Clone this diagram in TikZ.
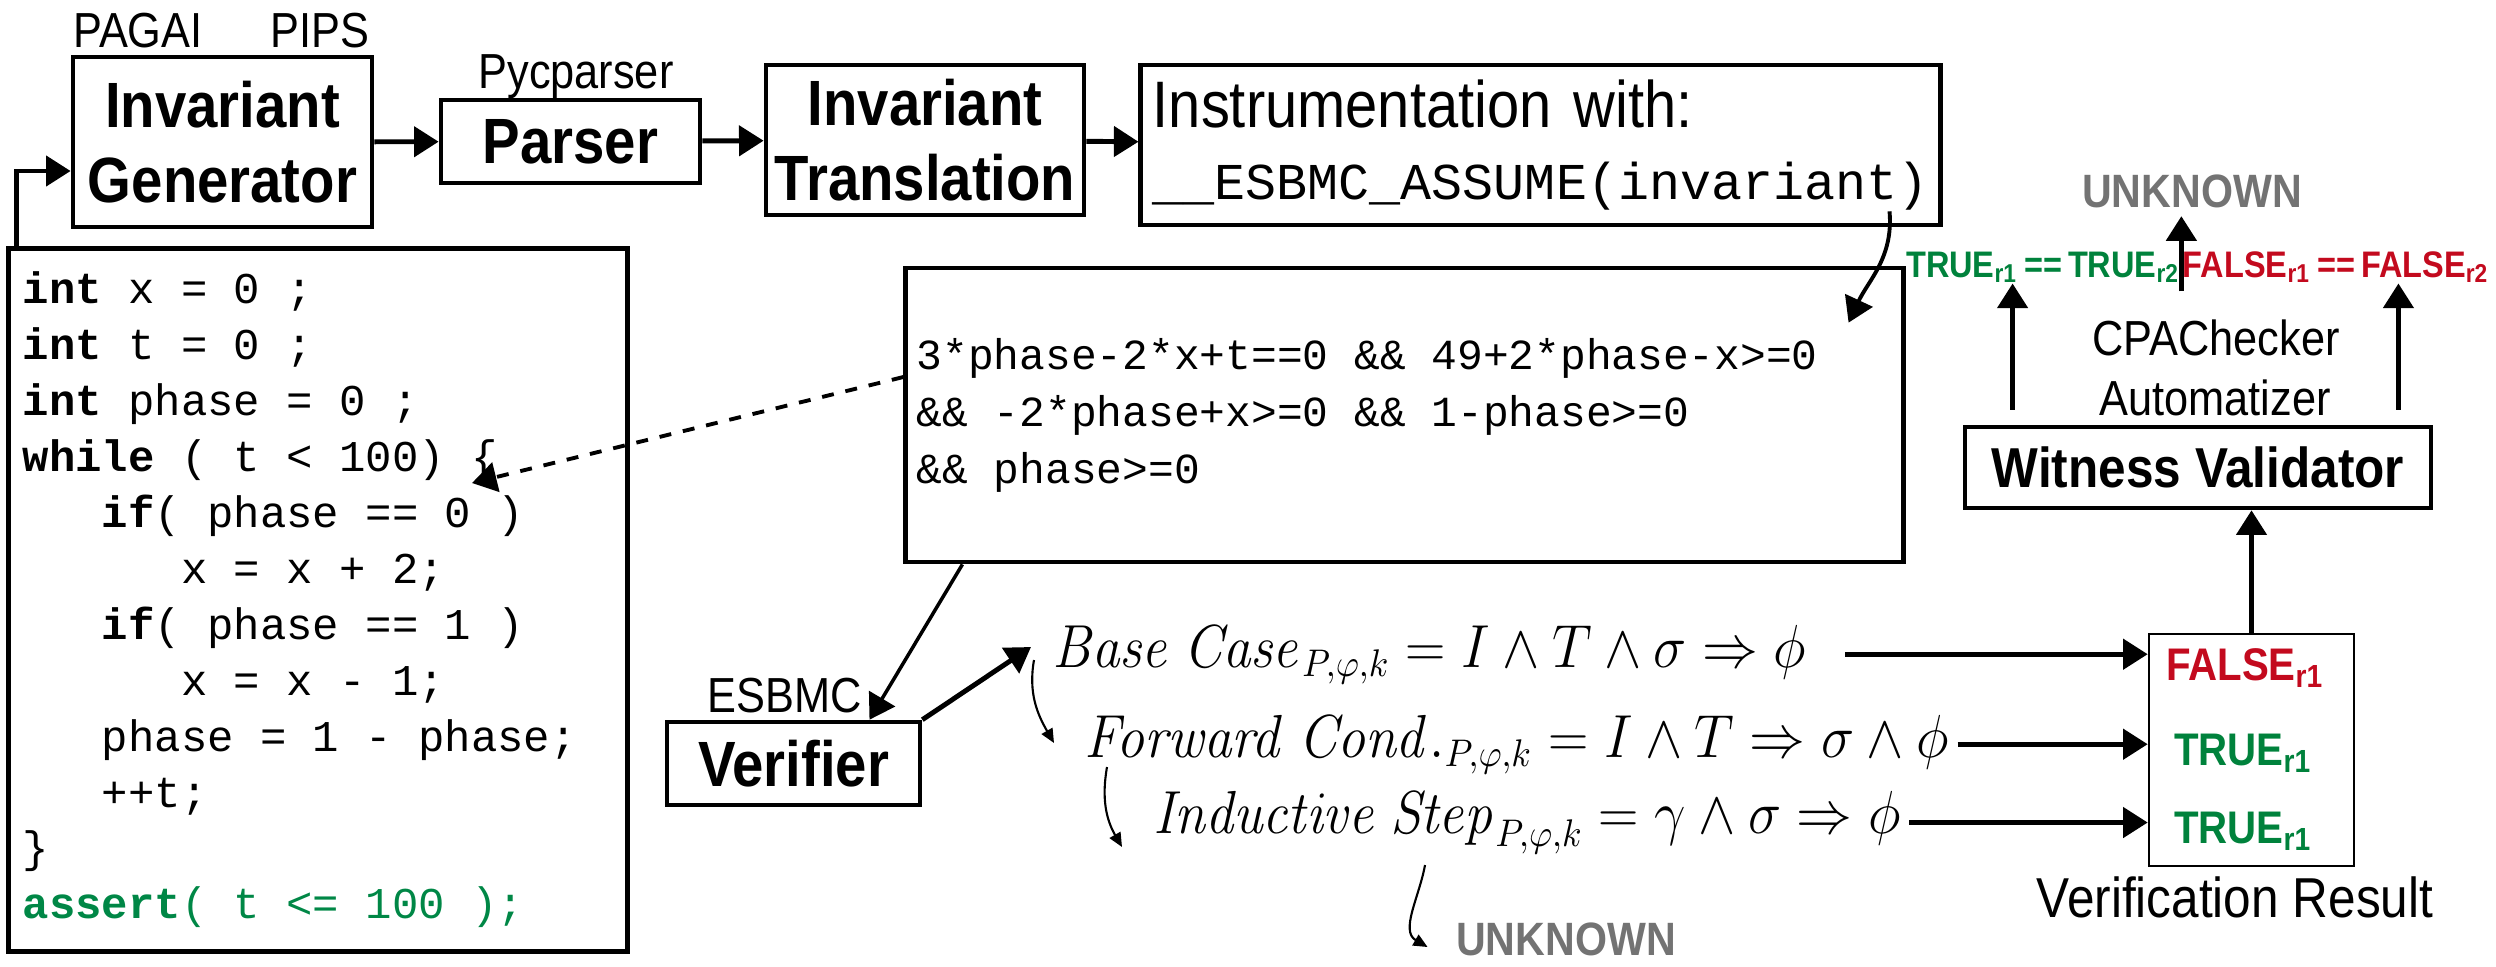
\documentclass[tikz,border=0pt]{standalone}
\usepackage[no-math]{fontspec}
\setmainfont{Liberation Sans}[FakeStretch=0.88]
\setmonofont{Liberation Mono}
\usepackage{graphicx}
\usepackage{xcolor}
\usetikzlibrary{arrows.meta,calc}

\definecolor{passgreen}{RGB}{0,130,60}
\definecolor{failred}{RGB}{195,10,30}
\definecolor{unkgray}{RGB}{115,115,115}
\definecolor{codegreen}{RGB}{0,135,70}

% fixed-width blanks for the listings (align=left would set them to .333em)
\newcommand{\monospaces}{\spaceskip=0.6em plus 0pt minus 0pt\xspaceskip=0.6em\relax}
% narrowed formula
\newcommand{\fmlbox}[1]{\scalebox{0.92}[1]{$#1$}}

\tikzset{
  box/.style={draw, line width=1.3pt, inner sep=0pt, align=center},
  boxlabel/.style={font=\fontsize{18.2}{21.3}\selectfont\bfseries},
  tool/.style={anchor=base, inner sep=0pt, font=\fontsize{14}{16}\selectfont},
  unk/.style={anchor=base, inner sep=0pt, text=unkgray, font=\fontsize{13.3}{15}\selectfont\bfseries},
  cmp/.style={anchor=base, inner sep=0pt, font=\fontsize{10.5}{12}\selectfont\bfseries},
  res/.style={anchor=base, inner sep=0pt, font=\fontsize{13}{15}\selectfont\bfseries},
  fml/.style={anchor=base west, inner sep=0pt, font=\fontsize{16}{18}\selectfont},
  arr/.style={line width=1.4pt, -{Triangle[length=7pt,width=8.5pt]}},
  thinarr/.style={line width=0.6pt, -{Triangle[length=4pt,width=3.5pt]}},
}

\begin{document}
\begin{tikzpicture}[x=0.01cm, y=-0.01cm]
\useasboundingbox (0,0) rectangle (2496,966);

% tool chain on top
\node[tool] (pagai) at (138,47) {PAGAI};
\node[tool] (pips) at (320,47) {PIPS};
\node[box, boxlabel, minimum width=2.99cm, minimum height=1.70cm] (gen) at (222.5,142) {Invariant\\Generator};
\node[tool] (pyc) at (576,88) {Pycparser};
\node[box, boxlabel, minimum width=2.59cm, minimum height=0.83cm] (parser) at (570.5,141.5) {Parser};
\node[box, boxlabel, minimum width=3.18cm, minimum height=1.50cm] (trans) at (925,140) {Invariant\\Translation};
\node[box, minimum width=7.99cm, minimum height=1.60cm, text width=7.75cm, align=left,
      font=\fontsize{18.7}{20.5}\selectfont] (instr) at (1540.5,145)
  {Instrumentation with:\\
   {\ttfamily\fontsize{14.7}{20.5}\selectfont \_\_ESBMC\_ASSUME(invariant)}};

% program under verification
\node[box, line width=1.4pt, minimum width=6.18cm, minimum height=7.02cm, text width=5.90cm, align=left,
      font=\ttfamily\fontsize{12.5}{15.9}\selectfont] (code) at (318,600) {\monospaces
\textbf{int} x = 0 ;\\
\textbf{int} t = 0 ;\\
\textbf{int} phase = 0 ;\\
\textbf{while} ( t < 100) \{\\
\hspace*{1.8em}\textbf{if}( phase == 0 )\\
\hspace*{3.6em}x = x + 2;\\
\hspace*{1.8em}\textbf{if}( phase == 1 )\\
\hspace*{3.6em}x = x - 1;\\
\hspace*{1.8em}phase = 1 - phase;\\
\hspace*{1.8em}++t;\\
\}\\
\textcolor{codegreen}{\textbf{assert}( t <= 100 );}};
\coordinate (brace) at (472,483);

% generated invariant
\node[box, minimum width=9.97cm, minimum height=2.94cm, text width=9.75cm, align=left,
      font=\ttfamily\fontsize{12.2}{16.2}\selectfont] (inv) at (1404.5,415)
  {\monospaces 3*phase-2*x+t==0 \&\& 49+2*phase-x>=0\\
   \&\& -2*phase+x>=0 \&\& 1-phase>=0\\
   \&\& phase>=0};

% verifier and k-induction steps
\node[tool] (esbmc) at (785,712) {ESBMC};
\node[box, boxlabel, minimum width=2.53cm, minimum height=0.83cm] (verifier) at (793.5,763.5) {Verifier};
\node[fml] (bc) at (1052,667) {\fmlbox{\mathit{Base}\ \mathit{Case}_{P,\varphi,k} = I \wedge T \wedge \sigma \Rightarrow \phi}};
\node[fml] (fc) at (1084,757) {\fmlbox{\mathit{Forward}\ \mathit{Cond.}_{P,\varphi,k} = I \wedge T \Rightarrow \sigma \wedge \phi}};
\node[fml] (is) at (1153,833) {\fmlbox{\mathit{Inductive}\ \mathit{Step}_{P,\varphi,k} = \gamma \wedge \sigma \Rightarrow \phi}};
\node[unk] (unkbot) at (1566,955) {UNKNOWN};

% results and witness validation
\node[draw, line width=0.7pt, minimum width=2.05cm, minimum height=2.32cm] (result) at (2251.5,750) {};
\node[res, text=failred] (r1) at (2245,680) {FALSE\textsubscript{r1}};
\node[res, text=passgreen] (r2) at (2243,765) {TRUE\textsubscript{r1}};
\node[res, text=passgreen] (r3) at (2243,843) {TRUE\textsubscript{r1}};
\node[anchor=base, inner sep=0pt, font=\fontsize{16}{18}\selectfont] (vres) at (2235,917) {Verification Result};
\node[box, font=\fontsize{16}{18}\selectfont\bfseries, minimum width=4.66cm, minimum height=0.81cm] (witness) at (2198,467.5) {Witness Validator};
\node[tool] (cpa) at (2216,355) {CPAChecker};
\node[tool] (autom) at (2215,415) {Automatizer};
\node[cmp, text=passgreen] (tt) at (2043,277) {TRUE\textsubscript{r1}\,==\,TRUE\textsubscript{r2}};
\node[cmp, text=failred] (ff) at (2336,277) {FALSE\textsubscript{r1}\,==\,FALSE\textsubscript{r2}};
\node[unk] (unktop) at (2192,207) {UNKNOWN};

% connectors
\draw[arr] ([shift={(10,0)}]code.north west) |- ([shift={(0,29)}]gen.west);
\draw[arr] (gen) -- (parser);
\draw[arr] (parser) -- (trans);
\draw[arr] (trans) -- (instr);
\draw[arr, line width=1.1pt] ([shift={(-53,-16)}]instr.south east) to[out=-85,in=65] ([shift={(-57,57)}]inv.north east);
\draw[arr, line width=1.1pt, dash pattern=on 3.4pt off 3.4pt] ([shift={(0,-38)}]inv.west) -- (brace);
\draw[arr, line width=1pt] ([shift={(59,0)}]inv.south west) -- ([shift={(76,0)}]verifier.north);
\draw[arr] (verifier.north east) -- ([shift={(-21,-20)}]bc.base west);

\draw[thinarr] ([shift={(-18,-7)}]bc.base west) to[out=-100,in=120] ([shift={(-30,-14)}]fc.base west);
\draw[thinarr] ([shift={(23,10)}]fc.base west) to[out=-100,in=120] ([shift={(-31,14)}]is.base west);
\draw[thinarr] ([shift={(272,32)}]is.base west) to[out=-100,in=150] ([shift={(-28,-8)}]unkbot.base west);

\draw[arr, shorten <=0.38cm] (bc.east) -- (bc.east -| result.west);
\draw[arr, shorten <=0.08cm] (fc.east) -- (fc.east -| result.west);
\draw[arr, shorten <=0.08cm] (is.east) -- (is.east -| result.west);
\draw[arr] (result.north) -- (result.north |- witness.south);

\coordinate (wl) at ($(witness.north west)+(50,0)$);
\coordinate (wr) at ($(witness.north east)+(-35,0)$);
\draw[arr, shorten <=0.15cm] (wl) -- (wl |- tt.south);
\draw[arr, shorten <=0.15cm] (wr) -- (wr |- ff.south);
\coordinate (mid) at ($(tt.south east)!0.5!(ff.south west)$);
\draw[arr, shorten >=0.08cm] ([shift={(0,8)}]mid) -- (mid |- unktop.south);
\end{tikzpicture}
\end{document}
